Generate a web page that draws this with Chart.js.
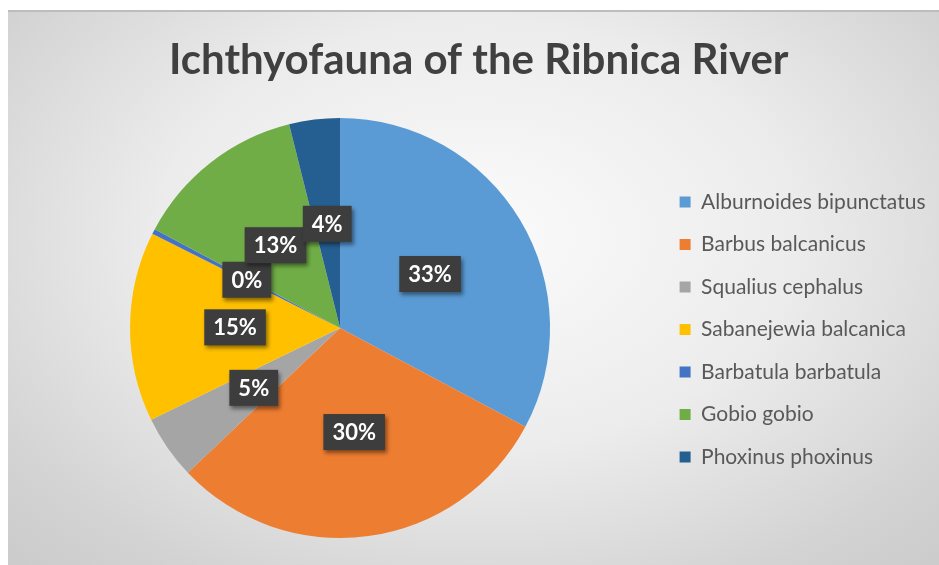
<!DOCTYPE html>
<html>
<head>
<meta charset="utf-8">
<script src="https://cdn.jsdelivr.net/npm/chart.js@4/dist/chart.umd.min.js"></script>
<style>
  html, body { margin: 0; padding: 0; background: #ffffff; }
  #wrap { position: relative; width: 939px; height: 565px; overflow: hidden; }
  #bg { position: absolute; left: 8px; top: 10px; width: 940px; height: 560px;
        border-top: 2px solid #bdbdbd;
        background: radial-gradient(ellipse 75% 85% at 50% 40%, #fbfbfb 0%, #ececec 45%, #d3d3d3 80%, #c9c9c9 100%); }
  #c { position: absolute; left: 0; top: 0; }
</style>
</head>
<body>
<div id="wrap">
  <div id="bg"></div>
  <canvas id="c" width="939" height="565"></canvas>
</div>
<script>
const titleText = 'Ichthyofauna of the Ribnica River';
const species = ['Alburnoides bipunctatus', 'Barbus balcanicus', 'Squalius cephalus',
                 'Sabanejewia balcanica', 'Barbatula barbatula', 'Gobio gobio', 'Phoxinus phoxinus'];
const shares = [32.8, 30.1, 4.9, 14.6, 0.4, 13.3, 3.9];
const sliceColors = ['#5B9BD5', '#ED7D31', '#A5A5A5', '#FFC000', '#4472C4', '#70AD47', '#255E91'];

const labelBoxes = {
  id: 'labelBoxes',
  afterDatasetsDraw(chart) {
    const ctx = chart.ctx;
    const meta = chart.getDatasetMeta(0);
    const data = chart.data.datasets[0].data;
    const total = data.reduce((a, b) => a + b, 0);
    ctx.save();
    ctx.font = 'bold 22px Lato';
    ctx.textAlign = 'center';
    ctx.textBaseline = 'middle';
    meta.data.forEach((arc, i) => {
      const p = arc.tooltipPosition();
      const txt = Math.round(data[i] / total * 100) + '%';
      const w = ctx.measureText(txt).width + 18;
      const h = 36;
      ctx.save();
      ctx.shadowColor = 'rgba(0,0,0,0.45)';
      ctx.shadowBlur = 4;
      ctx.shadowOffsetX = 2;
      ctx.shadowOffsetY = 3;
      ctx.fillStyle = '#3d3d3d';
      ctx.fillRect(p.x - w / 2, p.y - h / 2, w, h);
      ctx.restore();
      ctx.fillStyle = '#ffffff';
      ctx.fillText(txt, p.x, p.y + 1);
    });
    ctx.restore();
  }
};

new Chart(document.getElementById('c'), {
  type: 'pie',
  data: {
    labels: species,
    datasets: [{ data: shares, backgroundColor: sliceColors, borderWidth: 0 }]
  },
  options: {
    responsive: false,
    animation: false,
    layout: { padding: { left: 22, right: 3.5, top: 0, bottom: 27 } },
    plugins: {
      title: {
        display: true,
        text: titleText,
        color: '#404040',
        font: { family: 'Lato', size: 42, weight: 'bold' },
        padding: { top: 35, bottom: 32.6 }
      },
      legend: {
        position: 'right',
        title: { display: true, text: ' ', font: { size: 12 }, padding: { top: 0, bottom: 106.6 } },
        labels: {
          color: '#595959',
          font: { family: 'Lato', size: 21 },
          boxWidth: 11,
          boxHeight: 11,
          padding: 21.5
        }
      },
      tooltip: { enabled: false }
    }
  },
  plugins: [labelBoxes]
});
</script>
</body>
</html>
